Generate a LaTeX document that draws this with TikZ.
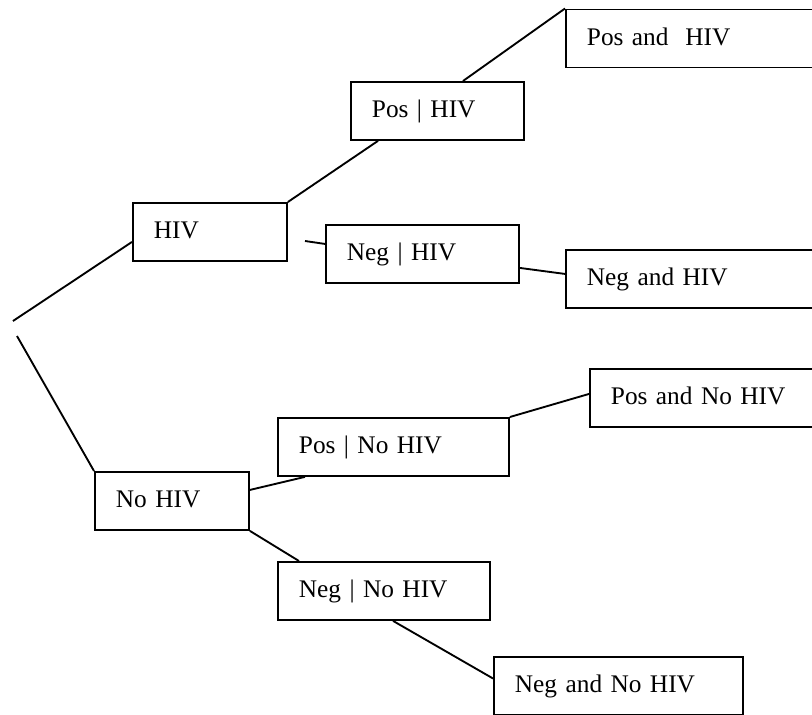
\documentclass[tikz,border=0pt]{standalone}
\usepackage{fontspec}
\setmainfont{Liberation Serif}

\begin{document}
\begin{tikzpicture}[
    x=0.75pt, y=-0.75pt,
    every node/.style={font=\fontsize{19}{22}\selectfont},
    probbox/.style={draw, rectangle, line width=1.4pt, anchor=north west, align=left, inner xsep=15.75pt, inner ysep=0pt, text height=27pt, text depth=16.5pt, text width=#1},
    branch/.style={line width=1.4pt}
]

    \clip (0, 0) rectangle (812, 714);

    % --------------------------------------------------------
    % 1. FIRST SPLIT: HIV STATUS
    % --------------------------------------------------------

    \coordinate (rootup) at (13, 321);
    \coordinate (rootdown) at (17, 336);

    % HIV
    \node (hiv) [probbox=84pt] at (132, 202) {HIV};

    % No HIV
    \node (nohiv) [probbox=84pt] at (94, 471) {No HIV};

    % --------------------------------------------------------
    % 2. SECOND SPLIT: TEST RESULT GIVEN STATUS
    % --------------------------------------------------------

    \node (poshiv) [probbox=98.25pt] at (350, 81) {Pos | HIV};
    \node (neghiv) [probbox=113.25pt] at (325, 224) {Neg | HIV};
    \node (posnohiv) [probbox=141.75pt] at (277, 417) {Pos | No HIV};
    \node (negnohiv) [probbox=127.5pt] at (277, 561) {Neg | No HIV};

    % --------------------------------------------------------
    % 3. JOINT OUTCOMES
    % --------------------------------------------------------

    \node (posandhiv) [probbox=178.5pt] at (565, 8.5) {Pos and\ \ HIV};
    \node (negandhiv) [probbox=178.5pt] at (565, 249) {Neg and HIV};
    \node (posandnohiv) [probbox=163.5pt] at (589, 368) {Pos and No HIV};
    \node (negandnohiv) [probbox=155.25pt] at (493, 656) {Neg and No HIV};

    % --------------------------------------------------------
    % 4. BRANCHES
    % --------------------------------------------------------

    \draw [branch] (rootup) -- ([yshift=-7.5pt]hiv.west);
    \draw [branch] (rootdown) -- (nohiv.north west);

    % HIV side
    \coordinate (gaphiv) at (305, 241);
    \draw [branch] (hiv.north east) -- ([xshift=21pt]poshiv.south west);
    \draw [branch] (gaphiv) -- ([yshift=7.5pt]neghiv.west);
    \draw [branch] ([xshift=84.75pt]poshiv.north west) -- (posandhiv.north west);
    \draw [branch] ([yshift=-10.5pt]neghiv.east) -- ([yshift=3.75pt]negandhiv.west);

    % No HIV side
    \draw [branch] ([yshift=8.25pt]nohiv.east) -- ([xshift=21pt]posnohiv.south west);
    \draw [branch] (nohiv.south east) -- ([xshift=16.5pt]negnohiv.north west);
    \draw [branch] (posnohiv.north east) -- ([yshift=3pt]posandnohiv.west);
    \draw [branch] ([xshift=87pt]negnohiv.south west) -- ([yshift=5.6pt]negandnohiv.west);

\end{tikzpicture}
\end{document}
